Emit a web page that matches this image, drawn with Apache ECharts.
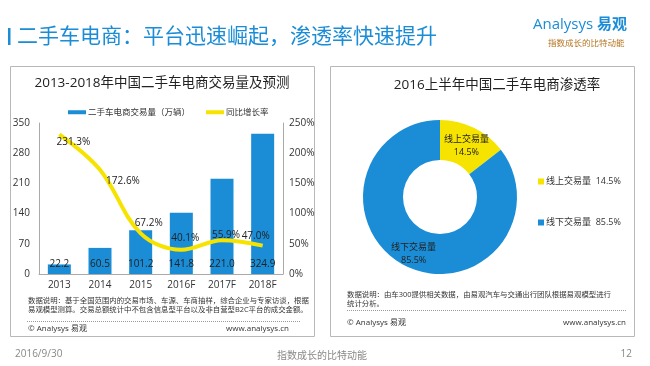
<!DOCTYPE html>
<html><head><meta charset="utf-8">
<script src="https://cdn.jsdelivr.net/npm/echarts@6/dist/echarts.min.js"></script>
<style>html,body{margin:0;padding:0;background:#fff}#c{width:650px;height:366px}</style>
</head><body><div id="c"></div>
<script>
var categories = ['2013','2014','2015','2016F','2017F','2018F'];
var volume = [22.2, 60.5, 101.2, 141.8, 221.0, 324.9];
var growth = [231.3, 172.6, 67.2, 40.1, 55.9, 47.0];
var growthLabelOffsets = [[14,8],[23,11],[8,-10],[4,-12],[4,-5],[-7,-9]];
var leftTicks = {min:0, max:350, interval:70};
var rightTicks = {min:0, max:250, interval:50};
var pieNames = ['线上交易量','线下交易量'];
var pieValues = [14.5, 85.5];

var FF = '"Open Sans","Noto Sans CJK SC",sans-serif';
var BLUE = '#1a8dd6', YEL = '#f7e300';
var chart = echarts.init(document.getElementById('c'), null, {renderer:'canvas'});

function txt(x,y,t,o){ return Object.assign({type:'text', x:x, y:y, style:Object.assign({text:t, fontFamily:FF, fontSize:8, fill:'#333', textVerticalAlign:'middle'}, o||{})}); }

var graphic = [
  {type:'rect', shape:{x:8,y:28,width:2.5,height:17}, style:{fill:BLUE}},
  txt(17,37,'二手车电商：平台迅速崛起，渗透率快速提升',{fontSize:21,fill:'#1a8dd6'}),
  txt(533,25,'Analysys',{fontSize:15,fill:'#1a8dd6'}),
  txt(597,25,'易观',{fontSize:15,fill:'#1a8dd6',fontWeight:'bold'}),
  txt(548,44,'指数成长的比特动能',{fontSize:8.5,fill:'#b5741e'}),
  {type:'rect', shape:{x:10.5,y:66.5,width:304,height:270}, style:{fill:'none',stroke:'#b8b8b8',lineWidth:1}},
  {type:'rect', shape:{x:330.5,y:66.5,width:304,height:270}, style:{fill:'none',stroke:'#b8b8b8',lineWidth:1}},
  txt(162,83,'2013-2018年中国二手车电商交易量及预测',{fontSize:13.5,fill:'#222',textAlign:'center'}),
  txt(497,85,'2016上半年中国二手车电商渗透率',{fontSize:13.5,fill:'#222',textAlign:'center'}),
  txt(28,305.5,'数据说明：基于全国范围内的交易市场、车源、车商抽样，综合企业与专家访谈，根据\n易观模型测算。交易总额统计中不包含信息型平台以及非自营型B2C平台的成交金额。',{fontSize:7.4,lineHeight:9,fill:'#333'}),
  {type:'line', shape:{x1:27,y1:321.5,x2:301,y2:321.5}, style:{stroke:'#999',lineWidth:1,lineDash:[1,1]}},
  txt(28,329,'© Analysys 易观',{fontSize:8,fill:'#333'}),
  txt(289,329,'www.analysys.cn',{fontSize:8,fill:'#333',textAlign:'right'}),
  txt(347,299,'数据说明：由车300提供相关数据，由易观汽车与交通出行团队根据易观模型进行\n统计分析。',{fontSize:7.4,lineHeight:9,fill:'#333'}),
  {type:'line', shape:{x1:347,y1:310.5,x2:626,y2:310.5}, style:{stroke:'#999',lineWidth:1,lineDash:[1,1]}},
  txt(347,323,'© Analysys 易观',{fontSize:8,fill:'#333'}),
  txt(626,323,'www.analysys.cn',{fontSize:8,fill:'#333',textAlign:'right'}),
  txt(15,354,'2016/9/30',{fontSize:10,fill:'#888'}),
  txt(322,356,'指数成长的比特动能',{fontSize:10,fill:'#888',textAlign:'center'}),
  txt(632,354,'12',{fontSize:10,fill:'#888',textAlign:'right'})
];

var option = {
  animation:false,
  textStyle:{fontFamily:FF},
  graphic: graphic,
  legend:[{
    data:[{name:'二手车电商交易量（万辆）',icon:'rect'},{name:'同比增长率',icon:'rect'}],
    left:68, top:108, padding:0, itemWidth:18, itemHeight:4, itemGap:16,
    textStyle:{fontSize:8.5,color:'#333',fontFamily:FF,padding:[0,0,0,-3]}
  },{
    data:pieNames, orient:'vertical', left:538, top:177, padding:0, itemWidth:6, itemHeight:6, itemGap:32, icon:'rect',
    textStyle:{fontSize:9,color:'#333',fontFamily:FF,padding:[0,0,0,-3]},
    formatter:function(n){ return n + '  ' + pieValues[pieNames.indexOf(n)] + '%'; }
  }],
  grid:{left:39, right:367, top:123, bottom:92},
  xAxis:{type:'category', data:categories,
    axisLine:{lineStyle:{color:'#aaa'}}, axisTick:{show:false},
    axisLabel:{color:'#333', fontSize:10, margin:6, fontFamily:FF}},
  yAxis:[{type:'value', min:leftTicks.min, max:leftTicks.max, interval:leftTicks.interval,
    axisLine:{show:true, lineStyle:{color:'#aaa'}}, axisTick:{show:false}, splitLine:{show:false},
    axisLabel:{color:'#333', fontSize:10, margin:9, fontFamily:FF}},
   {type:'value', min:rightTicks.min, max:rightTicks.max, interval:rightTicks.interval,
    axisLine:{show:true, lineStyle:{color:'#aaa'}}, axisTick:{show:false}, splitLine:{show:false},
    axisLabel:{color:'#333', fontSize:10, margin:6, formatter:'{value}%', fontFamily:FF}}],
  series:[{
    name:'二手车电商交易量（万辆）', type:'bar', data:volume, barWidth:23, itemStyle:{color:BLUE},
    label:{show:true, position:'insideBottom', distance:5, color:'#222', fontSize:10, fontFamily:FF,
      formatter:function(p){return p.value.toFixed(1);}}
  },{
    name:'同比增长率', type:'line', yAxisIndex:1, smooth:0.35, symbol:'circle', symbolSize:0.1,
    lineStyle:{color:YEL, width:4}, itemStyle:{color:YEL},
    data: growth.map(function(v,i){ return {value:v, label:{offset:growthLabelOffsets[i]}}; }),
    label:{show:true, position:'inside', color:'#222', fontSize:10, fontFamily:FF,
      formatter:function(p){return p.value.toFixed(1)+'%';}}
  },{
    type:'pie', center:[440,197], radius:[37,77], startAngle:90, clockwise:true,
    data: pieNames.map(function(n,i){return {name:n, value:pieValues[i]};}),
    color:[YEL, BLUE],
    label:{show:true, position:'inside', color:'#222', fontSize:9, lineHeight:13, fontFamily:FF, offset:[0,3],
      formatter:function(p){return p.name+'\n'+p.value+'%';}},
    labelLine:{show:false}, emphasis:{disabled:true}
  }]
};
chart.setOption(option);
</script></body></html>
